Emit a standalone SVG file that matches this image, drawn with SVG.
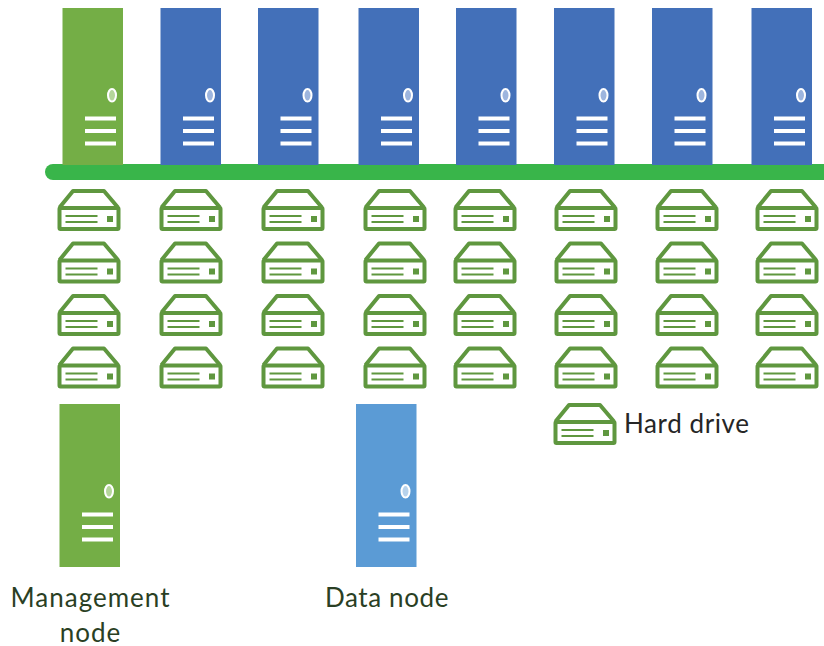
<svg xmlns="http://www.w3.org/2000/svg" width="824" height="646" viewBox="0 0 824 646">
<style>
.lbl{font-family:Lato,"Liberation Sans",sans-serif;font-size:26px;fill:#2a3f24;text-anchor:middle}
.leg{font-family:Lato,"Liberation Sans",sans-serif;font-size:26px;fill:#262626;letter-spacing:.6px}
.bars{fill:#fff}
.green{fill:#74ae46}
.blue{fill:#4370b9}
.light{fill:#5b9bd5}
.dr{fill:none;stroke:#5f973f;stroke-width:4;stroke-linejoin:round}
.drf{fill:#5f973f}
</style>
<defs>
<g id="bar"><rect x="22.500" y="108.500" width="31" height="4" class="bars"/><rect x="22.500" y="121" width="31" height="4" class="bars"/><rect x="22.500" y="133.500" width="31" height="4" class="bars"/></g>
<g id="drive">
<path class="dr" d="M2,18.500 L15.500,2 H46.500 L60.500,18.500"/>
<rect class="dr" x="2" y="19" width="59" height="21" rx="1"/>
<rect class="drf" x="8" y="26" width="32" height="2"/>
<rect class="drf" x="8" y="32" width="32" height="2"/>
<rect class="drf" x="49.500" y="27" width="6" height="6"/>
</g>
</defs>
<g id="connectors"><path id="bus" d="M53,172 H824" stroke="#39b54a" stroke-width="16" stroke-linecap="round" fill="none"/></g>
<g id="node-mgmt-top"><rect class="green" x="62.500" y="8" width="60.500" height="157"/><ellipse cx="112" cy="95.300" rx="4" ry="6.300" fill="#b5d69b" stroke="#fff" stroke-width="2"/><use href="#bar" x="62.500" y="8"/></g>
<g id="node-d1"><rect class="blue" x="160.500" y="8" width="60.500" height="157"/><ellipse cx="210" cy="95.300" rx="4" ry="6.300" fill="#9db5de" stroke="#fff" stroke-width="2"/><use href="#bar" x="160.500" y="8"/></g>
<g id="node-d2"><rect class="blue" x="258" y="8" width="60.500" height="157"/><ellipse cx="307.500" cy="95.300" rx="4" ry="6.300" fill="#9db5de" stroke="#fff" stroke-width="2"/><use href="#bar" x="258" y="8"/></g>
<g id="node-d3"><rect class="blue" x="358.500" y="8" width="60.500" height="157"/><ellipse cx="408" cy="95.300" rx="4" ry="6.300" fill="#9db5de" stroke="#fff" stroke-width="2"/><use href="#bar" x="358.500" y="8"/></g>
<g id="node-d4"><rect class="blue" x="456" y="8" width="60.500" height="157"/><ellipse cx="505.500" cy="95.300" rx="4" ry="6.300" fill="#9db5de" stroke="#fff" stroke-width="2"/><use href="#bar" x="456" y="8"/></g>
<g id="node-d5"><rect class="blue" x="554" y="8" width="60.500" height="157"/><ellipse cx="603.500" cy="95.300" rx="4" ry="6.300" fill="#9db5de" stroke="#fff" stroke-width="2"/><use href="#bar" x="554" y="8"/></g>
<g id="node-d6"><rect class="blue" x="652" y="8" width="60.500" height="157"/><ellipse cx="701.500" cy="95.300" rx="4" ry="6.300" fill="#9db5de" stroke="#fff" stroke-width="2"/><use href="#bar" x="652" y="8"/></g>
<g id="node-d7"><rect class="blue" x="751.500" y="8" width="60.500" height="157"/><ellipse cx="801" cy="95.300" rx="4" ry="6.300" fill="#9db5de" stroke="#fff" stroke-width="2"/><use href="#bar" x="751.500" y="8"/></g>
<g id="drives">
<use href="#drive" x="57.500" y="189"/><use href="#drive" x="159.500" y="189"/><use href="#drive" x="261.500" y="189"/><use href="#drive" x="363.500" y="189"/><use href="#drive" x="453.500" y="189"/><use href="#drive" x="554.500" y="189"/><use href="#drive" x="655.500" y="189"/><use href="#drive" x="755.500" y="189"/>
<use href="#drive" x="57.500" y="241.500"/><use href="#drive" x="159.500" y="241.500"/><use href="#drive" x="261.500" y="241.500"/><use href="#drive" x="363.500" y="241.500"/><use href="#drive" x="453.500" y="241.500"/><use href="#drive" x="554.500" y="241.500"/><use href="#drive" x="655.500" y="241.500"/><use href="#drive" x="755.500" y="241.500"/>
<use href="#drive" x="57.500" y="294"/><use href="#drive" x="159.500" y="294"/><use href="#drive" x="261.500" y="294"/><use href="#drive" x="363.500" y="294"/><use href="#drive" x="453.500" y="294"/><use href="#drive" x="554.500" y="294"/><use href="#drive" x="655.500" y="294"/><use href="#drive" x="755.500" y="294"/>
<use href="#drive" x="57.500" y="346.500"/><use href="#drive" x="159.500" y="346.500"/><use href="#drive" x="261.500" y="346.500"/><use href="#drive" x="363.500" y="346.500"/><use href="#drive" x="453.500" y="346.500"/><use href="#drive" x="554.500" y="346.500"/><use href="#drive" x="655.500" y="346.500"/><use href="#drive" x="755.500" y="346.500"/>
</g>
<g id="legend-mgmt"><rect class="green" x="59.500" y="404" width="60.500" height="163"/><ellipse cx="109" cy="491.300" rx="4" ry="6.300" fill="#b5d69b" stroke="#fff" stroke-width="2"/><use href="#bar" x="59.500" y="404"/><text class="lbl" x="90.500" y="607" letter-spacing="1">Management</text><text class="lbl" x="90.500" y="642" letter-spacing="1">node</text></g>
<g id="legend-data"><rect class="light" x="356" y="404" width="60.500" height="163"/><ellipse cx="405.500" cy="491.300" rx="4" ry="6.300" fill="#b8d3ec" stroke="#fff" stroke-width="2"/><use href="#bar" x="356" y="404"/><text class="lbl" x="387" y="607" letter-spacing=".6">Data node</text></g>
<g id="legend-drive"><use href="#drive" x="553.500" y="403"/><text class="leg" x="624" y="433">Hard drive</text></g>
</svg>
